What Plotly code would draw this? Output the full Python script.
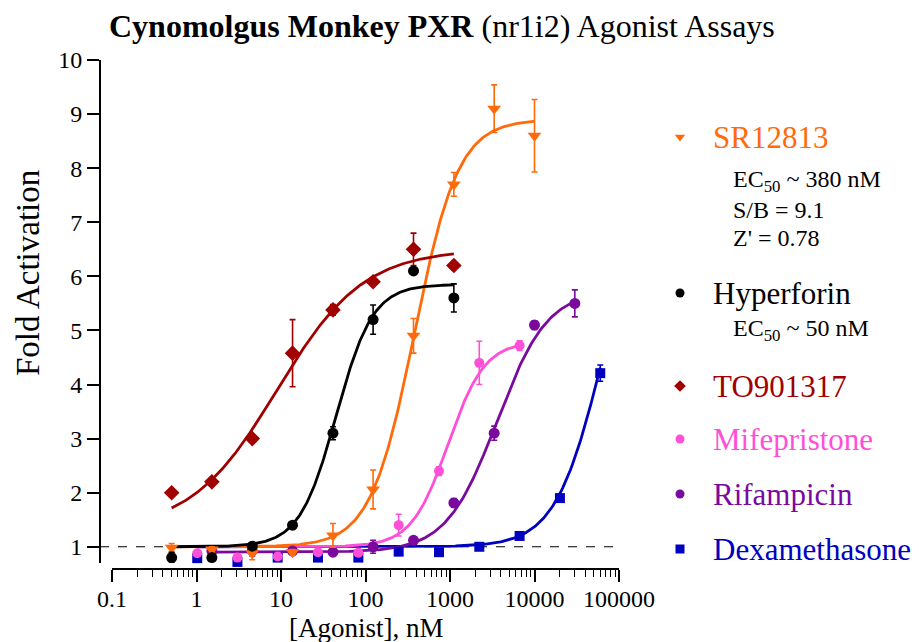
import numpy as np
import plotly.graph_objects as go

# The page body adds an 8px margin, so the figure is shrunk by that amount
# and every reference pixel position is shifted by OFF.
OFF = 8
W, H = 919 - OFF, 642 - OFF
FONT = "Liberation Serif"

# ---------------- data ----------------
colors = {"SR12813": "#FF6A0A", "Hyperforin": "#000000", "TO901317": "#A00000",
          "Mifepristone": "#FF4FD8", "Rifampicin": "#7A0A9E", "Dexamethasone": "#0000C0"}
symbols = {"SR12813": "triangle-down", "Hyperforin": "circle", "TO901317": "diamond",
           "Mifepristone": "circle", "Rifampicin": "circle", "Dexamethasone": "square"}
sizes = {"SR12813": 12, "Hyperforin": 11, "TO901317": 12,
         "Mifepristone": 10, "Rifampicin": 11, "Dexamethasone": 10}

conc_sr = [0.508, 1.52, 4.57, 13.7, 41.2, 123, 370, 1111, 3333, 10000]
sr_vals = [0.98, 0.95, 0.88, 0.90, 1.21, 2.06, 4.90, 7.70, 9.10, 8.60]
sr_err = [0.08, 0.05, 0.12, 0.05, 0.22, 0.36, 0.32, 0.22, 0.44, 0.67]

conc_hyp = [0.508, 1.52, 4.57, 13.7, 41.2, 123, 370, 1111]
hyp_vals = [0.80, 0.80, 1.01, 1.40, 3.10, 5.20, 6.10, 5.60]
hyp_err = [0.10, 0.05, 0.05, 0.06, 0.12, 0.27, 0.05, 0.26]

conc_to = [0.508, 1.52, 4.57, 13.7, 41.2, 123, 370, 1111]
to_vals = [2.00, 2.20, 3.00, 4.58, 5.38, 5.90, 6.50, 6.20]
to_err = [0.03, 0.03, 0.03, 0.62, 0.10, 0.05, 0.30, 0.05]

conc_mif = [1.02, 3.05, 9.14, 27.4, 82.3, 247, 741, 2222, 6667]
mif_vals = [0.88, 0.80, 0.82, 0.90, 0.89, 1.40, 2.40, 4.40, 4.72]
mif_err = [0.03, 0.03, 0.03, 0.03, 0.03, 0.20, 0.08, 0.40, 0.09]

conc_rif = [1.52, 4.57, 13.7, 41.2, 123, 370, 1111, 3333, 10000, 30000]
rif_vals = [0.92, 0.93, 0.92, 0.90, 1.00, 1.12, 1.81, 3.10, 5.10, 5.50]
rif_err = [0.05, 0.10, 0.05, 0.03, 0.12, 0.05, 0.08, 0.13, 0.08, 0.25]

conc_dex = [1.02, 3.05, 9.14, 27.4, 82.3, 247, 741, 2222, 6667, 20000, 60000]
dex_vals = [0.79, 0.72, 0.80, 0.80, 0.80, 0.91, 0.90, 1.00, 1.20, 1.90, 4.21]
dex_err = [0.05, 0.05, 0.03, 0.03, 0.03, 0.03, 0.05, 0.03, 0.03, 0.06, 0.15]

series_conc = {"SR12813": conc_sr, "Hyperforin": conc_hyp, "TO901317": conc_to,
               "Mifepristone": conc_mif, "Rifampicin": conc_rif, "Dexamethasone": conc_dex}
series_vals = {"SR12813": sr_vals, "Hyperforin": hyp_vals, "TO901317": to_vals,
               "Mifepristone": mif_vals, "Rifampicin": rif_vals, "Dexamethasone": dex_vals}
series_err = {"SR12813": sr_err, "Hyperforin": hyp_err, "TO901317": to_err,
              "Mifepristone": mif_err, "Rifampicin": rif_err, "Dexamethasone": dex_err}

# four-parameter logistic fit parameters (bottom, top, EC50 nM, Hill slope)
fit_bottom = {"SR12813": 1.0, "Hyperforin": 1.0, "TO901317": 1.3,
              "Mifepristone": 1.0, "Rifampicin": 0.9, "Dexamethasone": 1.0}
fit_top = {"SR12813": 8.9, "Hyperforin": 5.85, "TO901317": 6.5,
           "Mifepristone": 4.8, "Rifampicin": 5.75, "Dexamethasone": 8.0}
fit_ec50 = {"SR12813": 380, "Hyperforin": 45, "TO901317": 9,
            "Mifepristone": 950, "Rifampicin": 3600, "Dexamethasone": 64300}
fit_hill = {"SR12813": 1.67, "Hyperforin": 2.0, "TO901317": 0.85,
            "Mifepristone": 2.0, "Rifampicin": 1.45, "Dexamethasone": 1.55}

x_tickvals = [0.1, 1, 10, 100, 1000, 10000, 100000]
x_ticktext = ["0.1", "1", "10", "100", "1000", "10000", "100000"]
y_tickvals = [1, 2, 3, 4, 5, 6, 7, 8, 9, 10]

# legend layout (reference pixel positions)
legend_names = ["SR12813", "Hyperforin", "TO901317", "Mifepristone", "Rifampicin", "Dexamethasone"]
legend_y = [137, 293, 386, 439, 494, 549]
legend_notes = [("EC<sub>50</sub> ~ 380 nM", 181), ("S/B = 9.1", 210), ("Z' = 0.78", 238),
                ("EC<sub>50</sub> ~ 50 nM", 330)]


def logistic(x, b, t, c, h):
    x = np.asarray(x, dtype=float)
    return b + (t - b) / (1.0 + (c / x) ** h)


def px(v):
    return v - OFF


fig = go.Figure()

curve_order = ["Dexamethasone", "Rifampicin", "Mifepristone", "SR12813", "TO901317", "Hyperforin"]
for n in curve_order:
    c = series_conc[n]
    xs = np.logspace(np.log10(c[0]), np.log10(c[-1]), 300)
    ys = logistic(xs, fit_bottom[n], fit_top[n], fit_ec50[n], fit_hill[n])
    fig.add_trace(go.Scatter(x=xs, y=ys, mode="lines", line=dict(color=colors[n], width=2.8),
                             showlegend=False, hoverinfo="skip", cliponaxis=False))

for n in curve_order:
    fig.add_trace(go.Scatter(
        x=series_conc[n], y=series_vals[n], mode="markers",
        marker=dict(symbol=symbols[n], size=sizes[n], color=colors[n], line=dict(width=0)),
        error_y=dict(type="data", array=series_err[n], color=colors[n], thickness=1.6, width=3),
        showlegend=False, name=n, cliponaxis=False))

# legend markers on a pixel-coordinate overlay
fig.add_trace(go.Scatter(
    x=[px(680)] * len(legend_names), y=[px(v) for v in legend_y], mode="markers",
    marker=dict(symbol=[symbols[n] for n in legend_names], size=9,
                color=[colors[n] for n in legend_names]),
    xaxis="x2", yaxis="y2", showlegend=False, hoverinfo="skip", cliponaxis=False))

annotations = []
for n, yy in zip(legend_names, legend_y):
    annotations.append(dict(x=px(711), y=px(yy), xref="x2", yref="y2", text=n, showarrow=False,
                            xanchor="left", yanchor="middle",
                            font=dict(family=FONT, size=31, color=colors[n])))
for txt, yy in legend_notes:
    annotations.append(dict(x=px(731), y=px(yy), xref="x2", yref="y2", text=txt, showarrow=False,
                            xanchor="left", yanchor="middle",
                            font=dict(family=FONT, size=24, color="black")))
annotations.append(dict(x=px(442), y=px(26), xref="x2", yref="y2",
                        text="<b>Cynomolgus Monkey PXR</b> (nr1i2) Agonist Assays",
                        showarrow=False, xanchor="center", yanchor="middle",
                        font=dict(family=FONT, size=32, color="black")))
annotations.append(dict(x=px(28), y=px(273), xref="x2", yref="y2", text="Fold Activation",
                        showarrow=False, textangle=-90, xanchor="center", yanchor="middle",
                        font=dict(family=FONT, size=33, color="black")))
annotations.append(dict(x=px(366), y=px(628), xref="x2", yref="y2", text="[Agonist], nM",
                        showarrow=False, xanchor="center", yanchor="middle",
                        font=dict(family=FONT, size=27, color="black")))

minor_vals = [m * 10.0 ** e for e in range(-1, 5) for m in range(2, 10)]

fig.update_layout(
    width=W, height=H,
    margin=dict(l=0, r=0, t=0, b=0, autoexpand=False),
    paper_bgcolor="white", plot_bgcolor="rgba(0,0,0,0)",
    showlegend=False,
    font=dict(family=FONT, color="black"),
    annotations=annotations,
    shapes=[dict(type="line", xref="paper", yref="y", x0=px(100) / W, x1=px(620) / W, y0=1, y1=1,
                 line=dict(color="black", width=1.2, dash="dash"), layer="below")],
    xaxis=dict(type="log", domain=[px(112) / W, px(619) / W], range=[-1, 5], anchor="free",
               position=1 - px(569) / H, showline=True, linecolor="black", linewidth=1.8,
               ticks="outside", ticklen=12, tickwidth=1.6, tickcolor="black",
               tickmode="array", tickvals=x_tickvals, ticktext=x_ticktext,
               ticklabelstandoff=-4,
               tickfont=dict(family=FONT, size=24, color="black"),
               minor=dict(tickmode="array", tickvals=minor_vals, ticks="outside",
                          ticklen=7, tickwidth=1.3, tickcolor="black", showgrid=False),
               showgrid=False, zeroline=False),
    yaxis=dict(domain=[1 - px(563) / H, 1 - px(60) / H], range=[0.70, 10], anchor="free",
               position=px(100) / W, showline=True, linecolor="black", linewidth=1.8,
               ticks="outside", ticklen=12, tickwidth=1.6, tickcolor="black",
               tickmode="array", tickvals=y_tickvals,
               tickfont=dict(family=FONT, size=24, color="black"),
               showgrid=False, zeroline=False),
    xaxis2=dict(domain=[0, 1], range=[0, W], anchor="y2", visible=False, fixedrange=True),
    yaxis2=dict(domain=[0, 1], range=[H, 0], anchor="x2", visible=False, fixedrange=True),
)

fig.write_html("out.html")
